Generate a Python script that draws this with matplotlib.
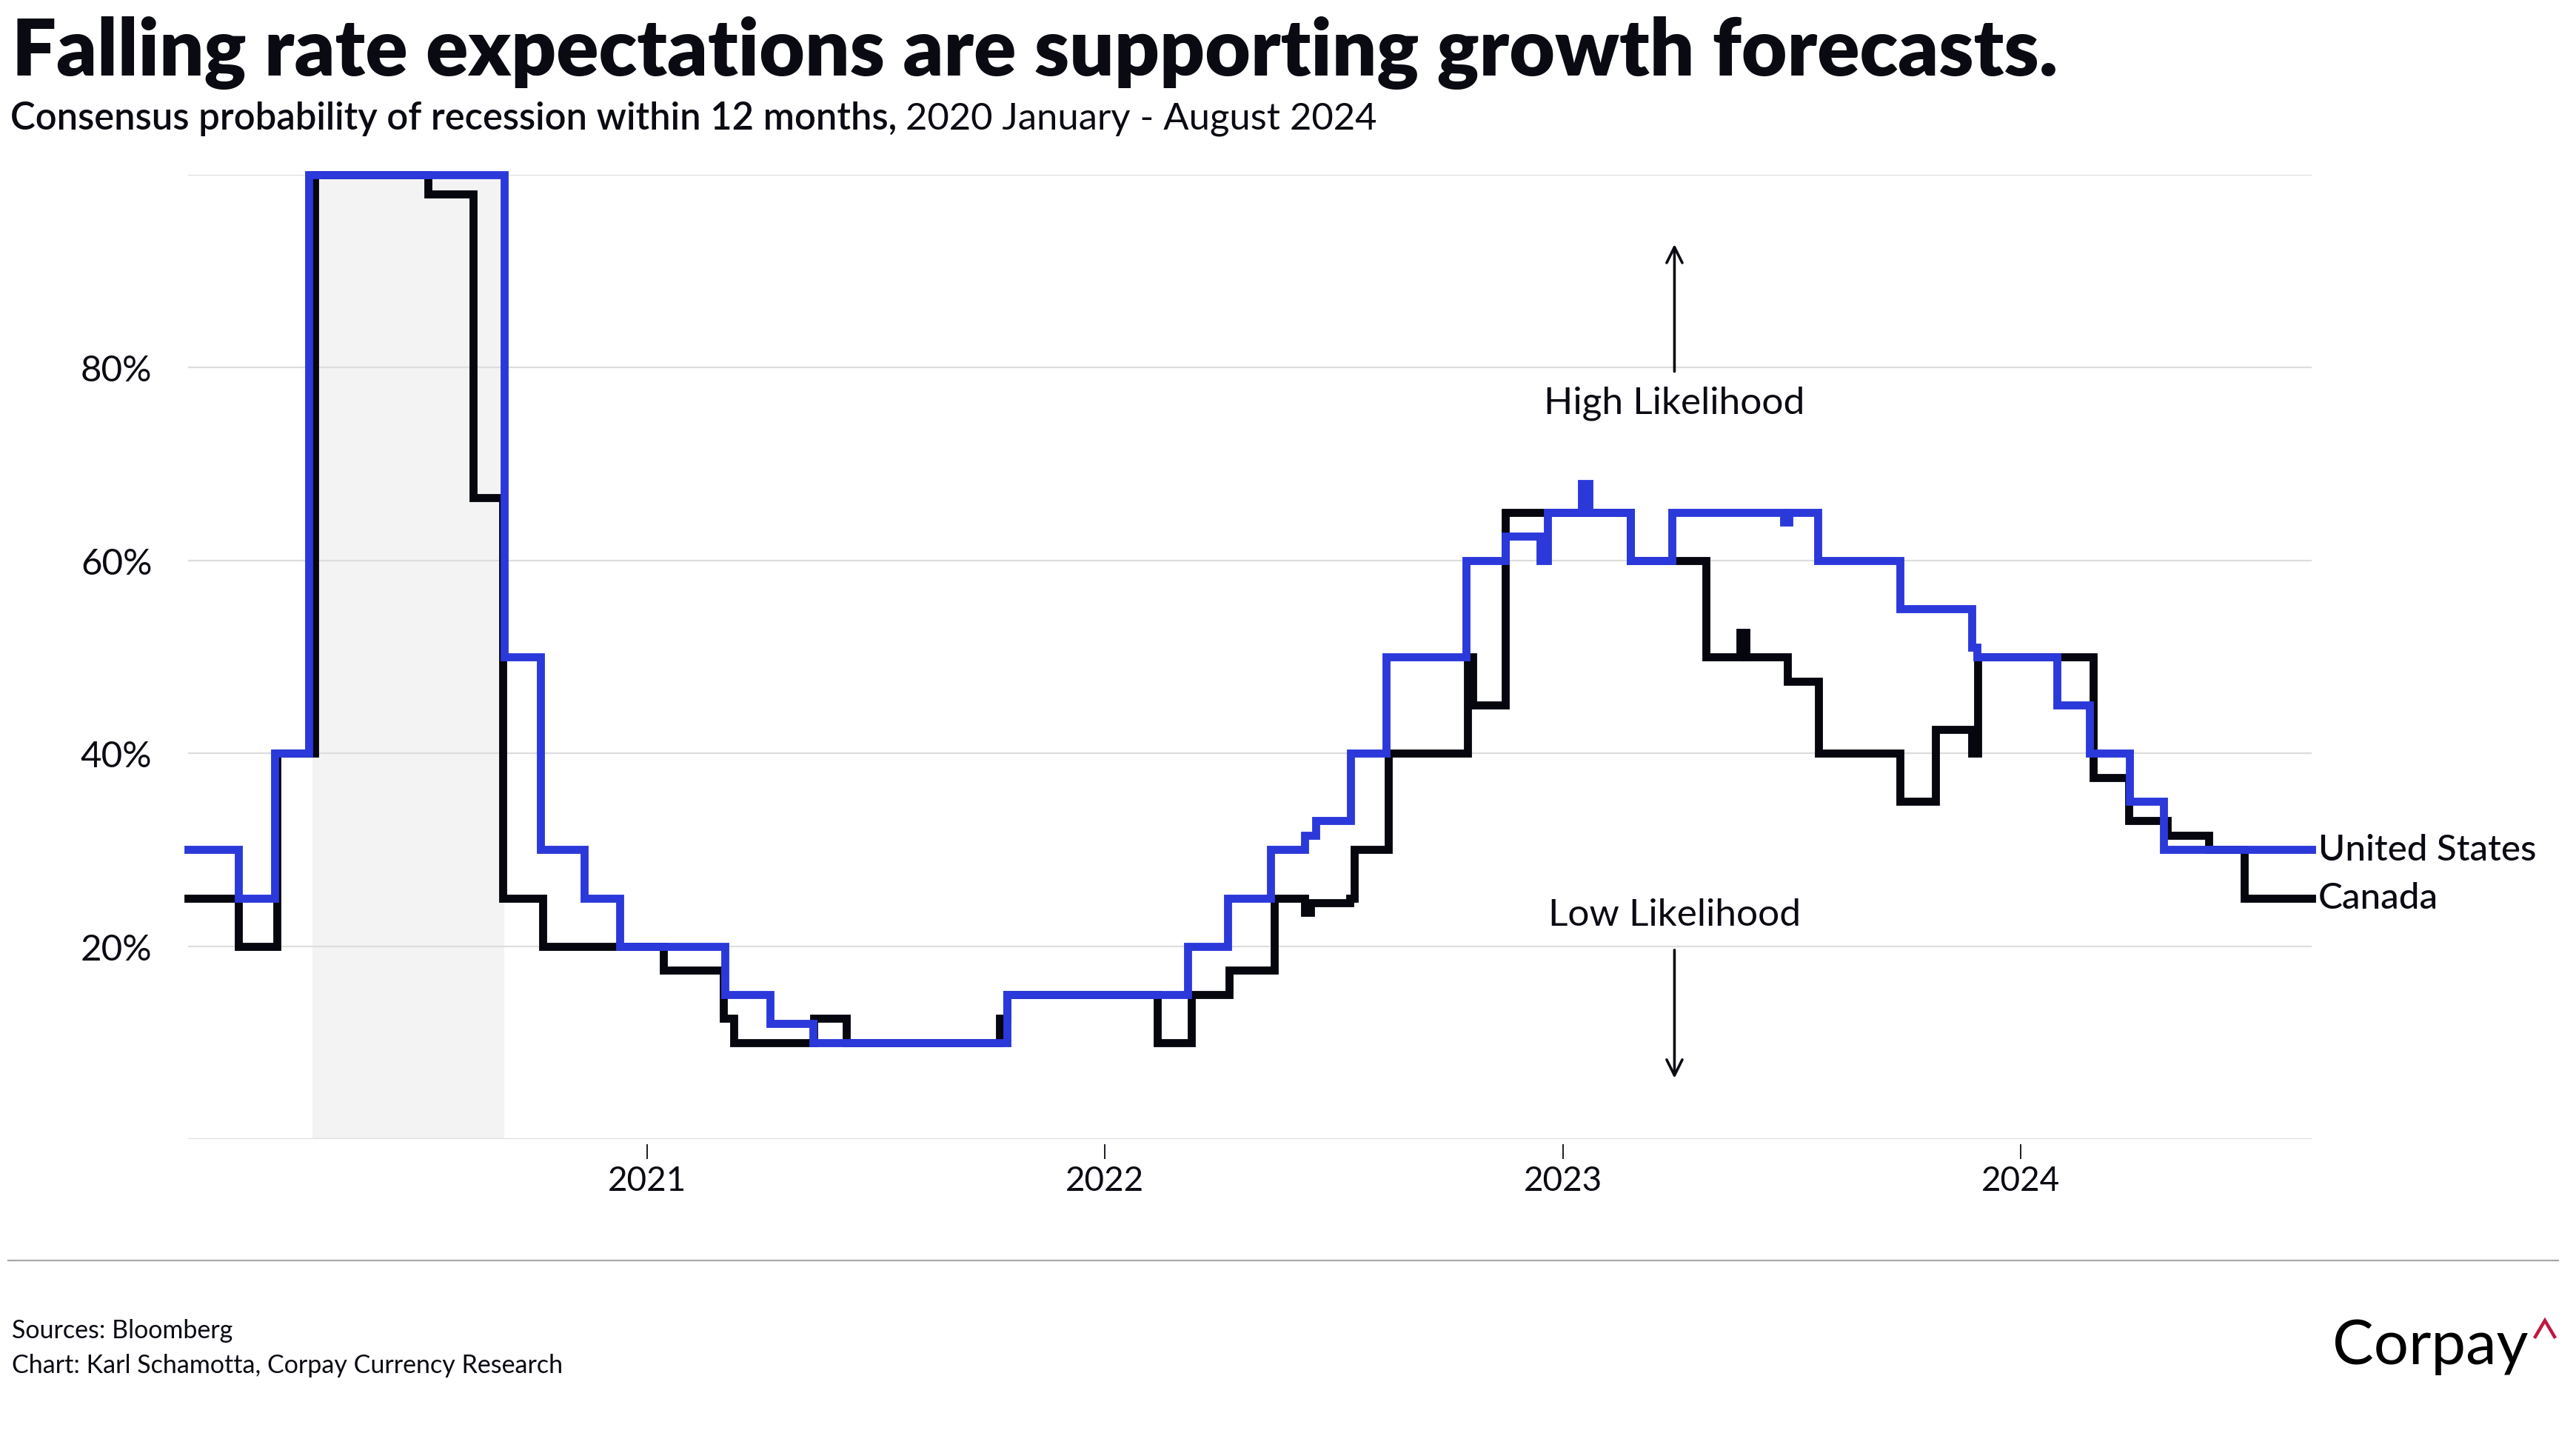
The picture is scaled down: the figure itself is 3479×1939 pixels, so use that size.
import numpy as np
import matplotlib
matplotlib.use("Agg")
import matplotlib.pyplot as plt
from matplotlib.lines import Line2D

plt.rcParams['font.family'] = ['Lato', 'DejaVu Sans']

# Canada: step change points (date, probability %)
canada_dates = ['2020-01-01', '2020-02-10', '2020-03-12', '2020-04-11', '2020-07-10',
                '2020-08-15', '2020-09-08', '2020-10-10', '2021-01-14', '2021-03-03',
                '2021-03-11', '2021-05-14', '2021-06-09', '2021-10-09', '2021-10-15',
                '2022-02-12', '2022-03-11', '2022-04-10', '2022-05-16', '2022-06-09',
                '2022-06-14', '2022-07-15', '2022-07-19', '2022-08-15', '2022-10-17',
                '2022-10-21', '2022-11-16', '2023-02-24', '2023-04-25', '2023-05-22',
                '2023-05-27', '2023-06-29', '2023-07-24', '2023-09-27', '2023-10-25',
                '2023-11-23', '2023-11-28', '2024-02-28', '2024-03-27', '2024-04-27',
                '2024-05-30', '2024-06-27', '2024-08-20']
canada_vals = [25, 20, 40, 100, 98,
               66.5, 25, 20, 17.5, 12.5,
               10, 12.5, 10, 12.5, 15,
               10, 15, 17.5, 25, 23.5,
               24.5, 25, 30, 40, 50,
               45, 65, 60, 50, 52.5,
               50, 47.5, 40, 35, 42.5,
               40, 50, 37.5, 33, 31.5,
               30, 25, 25]

# United States
us_dates = ['2020-01-01', '2020-02-10', '2020-03-10', '2020-04-06', '2020-09-09',
            '2020-10-08', '2020-11-12', '2020-12-10', '2021-03-04', '2021-04-09',
            '2021-05-13', '2021-10-15', '2022-03-08', '2022-04-09', '2022-05-13',
            '2022-06-09', '2022-06-18', '2022-07-16', '2022-08-13', '2022-10-16',
            '2022-11-16', '2022-12-14', '2022-12-20', '2023-01-16', '2023-01-22',
            '2023-02-24', '2023-03-29', '2023-06-26', '2023-06-30', '2023-07-23',
            '2023-09-27', '2023-11-23', '2023-11-27', '2024-01-30', '2024-02-25',
            '2024-03-28', '2024-04-24', '2024-08-20']
us_vals = [30, 25, 40, 100, 50,
           30, 25, 20, 15, 12,
           10, 15, 20, 25, 30,
           31.5, 33, 40, 50, 60,
           62.5, 60, 65, 68, 65,
           60, 65, 64, 65, 60,
           55, 51, 50, 45, 40,
           35, 30, 30]

shade_start, shade_end = '2020-04-09', '2020-09-09'
year_ticks = ['2021-01-01', '2022-01-01', '2023-01-01', '2024-01-01']
year_labels = ['2021', '2022', '2023', '2024']
y_ticks = [0, 20, 40, 60, 80, 100]
y_labels = ['', '20%', '40%', '60%', '80%', '']

BLUE = '#2b38da'
BLACK = '#06060f'
TXT = '#0a0a12'

W, H = 3480, 1940
fig = plt.figure(figsize=(W / 100, H / 100), dpi=100)
ax = fig.add_axes([254 / W, 1 - 1539 / H, (3122 - 254) / W, (1539 - 237) / H])

cd = np.array(canada_dates, dtype='datetime64[D]')
ud = np.array(us_dates, dtype='datetime64[D]')

ax.axvspan(np.datetime64(shade_start), np.datetime64(shade_end), color='#f3f3f3', zorder=0, lw=0)
ax.plot(cd, canada_vals, drawstyle='steps-post', color=BLACK, lw=7.8, zorder=3,
        clip_on=False, solid_joinstyle='miter')
ax.plot(ud, us_vals, drawstyle='steps-post', color=BLUE, lw=7.8, zorder=4,
        clip_on=False, solid_joinstyle='miter')

ax.set_xlim(np.datetime64('2020-01-01'), np.datetime64('2024-08-20'))
ax.set_ylim(0, 100)
ax.set_yticks(y_ticks)
ax.set_yticklabels(y_labels)
ax.set_xticks(np.array(year_ticks, dtype='datetime64[D]'))
ax.set_xticklabels(year_labels)
ax.grid(axis='y', color='#dddddd', lw=1.6, zorder=1)
ax.grid(axis='x', visible=False)
for s in ax.spines.values():
    s.set_visible(False)
ax.spines['bottom'].set_position(('outward', 5))
ax.tick_params(axis='y', length=0, pad=35, labelsize=35.5, labelcolor=TXT)
ax.tick_params(axis='x', length=14.5, width=1.3, color=TXT, pad=6, labelsize=33, labelcolor=TXT)

# end labels
ax.text(1.003, us_vals[-1], 'United States', transform=ax.get_yaxis_transform(),
        fontsize=35.5, weight='medium', color=TXT, va='center', ha='left')
ax.text(1.003, canada_vals[-1], 'Canada', transform=ax.get_yaxis_transform(),
        fontsize=35.5, weight='medium', color=TXT, va='center', ha='left')

# likelihood annotations
ann_x = np.datetime64('2023-03-31')
ax.annotate('', xy=(ann_x, 92.8), xytext=(ann_x, 79.6),
            arrowprops=dict(arrowstyle='->', lw=2.6, color=TXT, mutation_scale=38, shrinkA=0, shrinkB=0))
ax.text(ann_x, 76.4, 'High Likelihood', fontsize=37, color=TXT, ha='center', va='center')
ax.annotate('', xy=(ann_x, 6.3), xytext=(ann_x, 19.6),
            arrowprops=dict(arrowstyle='->', lw=2.6, color=TXT, mutation_scale=38, shrinkA=0, shrinkB=0))
ax.text(ann_x, 23.3, 'Low Likelihood', fontsize=37, color=TXT, ha='center', va='center')

# titles
fig.text(16 / W, 1 - 102 / H, 'Falling rate expectations are supporting growth forecasts.',
         fontsize=76.5, weight='heavy', color=TXT, va='baseline', ha='left')
sub1 = fig.text(14 / W, 1 - 175 / H, 'Consensus probability of recession within 12 months,',
                fontsize=36.5, weight='semibold', color=TXT, va='baseline', ha='left')
fig.canvas.draw()
bb = sub1.get_window_extent()
fig.text((bb.x1 + 12) / W, 1 - 175 / H, '2020 January - August 2024',
         fontsize=36.5, color=TXT, va='baseline', ha='left')

# footer
fig.add_artist(Line2D([11 / W, 3455 / W], [1 - 1703 / H] * 2, color='#a8a8a8', lw=1.6))
fig.text(16 / W, 1 - 1807 / H, 'Sources: Bloomberg', fontsize=24.5, color=TXT, va='baseline')
fig.text(16 / W, 1 - 1854 / H, 'Chart: Karl Schamotta, Corpay Currency Research',
         fontsize=24.5, color=TXT, va='baseline')
fig.text(3150 / W, 1 - 1842 / H, 'Corpay', fontsize=60, color='black',
         va='baseline', ha='left')
fig.add_artist(Line2D([3424 / W, 3437 / W, 3450 / W], [1 - 1806 / H, 1 - 1784 / H, 1 - 1806 / H],
                      color='#c2163f', lw=3.2, solid_joinstyle='miter'))

fig.savefig('out.png', dpi=100)
